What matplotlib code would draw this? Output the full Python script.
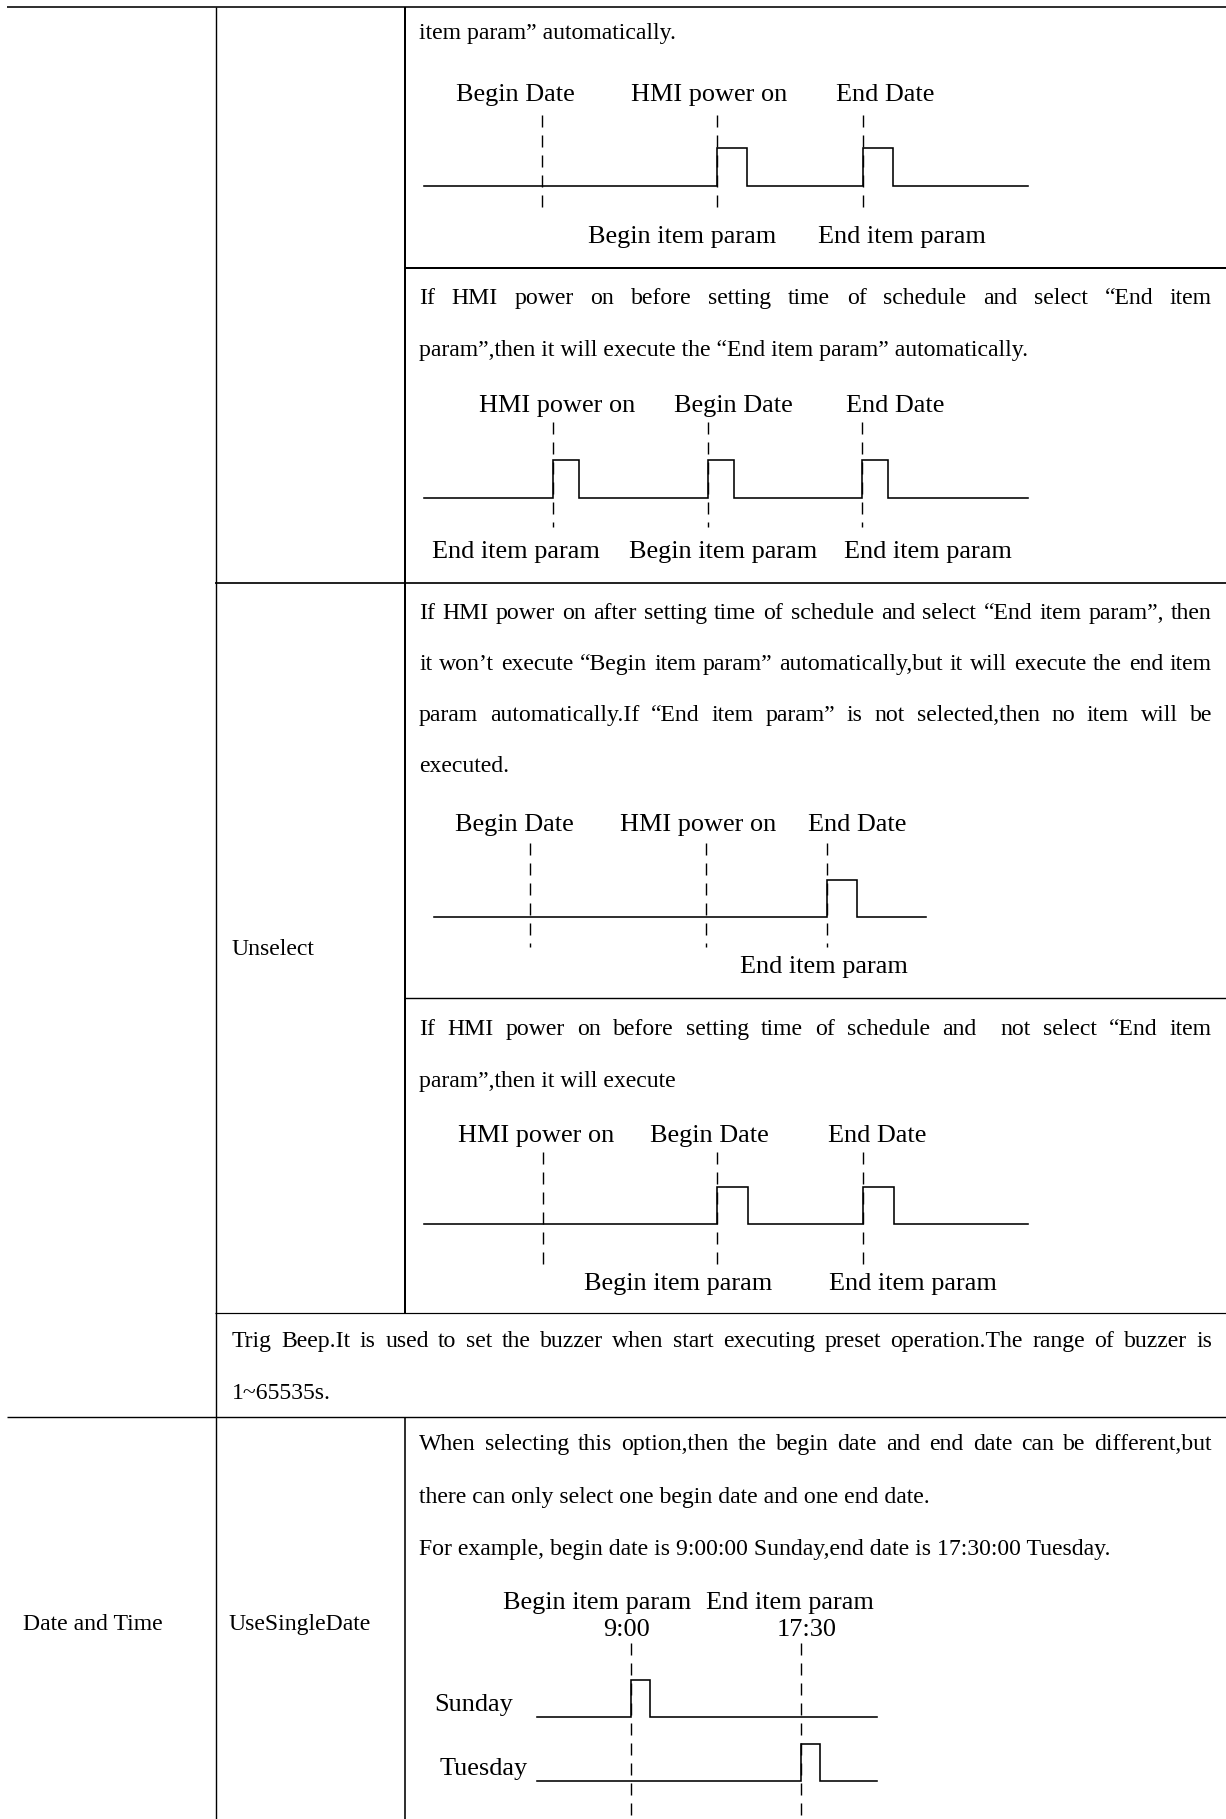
import matplotlib
matplotlib.use("Agg")
import matplotlib.pyplot as plt

# ---------------- data (text & timing values read from the page) ----------------
ROW1_TEXT = ["item param” automatically."]
ROW2_TEXT = ["If HMI power on before setting time of schedule and select “End item",
             "param”,then it will execute the “End item param” automatically."]
ROW3_TEXT = ["If HMI power on after setting time of schedule and select “End item param”, then",
             "it won’t execute “Begin item param” automatically,but it will execute the end item",
             "param automatically.If “End item param” is not selected,then no item will be",
             "executed."]
ROW4_TEXT = ["If HMI power on before setting time of schedule and  not select “End item",
             "param”,then it will execute"]
BEEP_TEXT = ["Trig Beep.It is used to set the buzzer when start executing preset operation.The range of buzzer is",
             "1~65535s."]
DATE_TEXT = ["When selecting this option,then the begin date and end date can be different,but",
             "there can only select one begin date and one end date."]
DATE_EXAMPLE = "For example, begin date is 9:00:00 Sunday,end date is 17:30:00 Tuesday."
COL1_LABELS = ["Date and Time"]
COL2_LABELS = ["Unselect", "UseSingleDate"]

# timing diagrams: event times along each timeline, which events carry a pulse, labels
D1_TIMES = [118, 293, 439]
D1_PULSE = [False, True, True]
D1_TOP = ["Begin Date", "HMI power on", "End Date"]
D1_BOTTOM = ["", "Begin item param", "End item param"]

D2_TIMES = [129, 284, 438]
D2_PULSE = [True, True, True]
D2_TOP = ["HMI power on", "Begin Date", "End Date"]
D2_BOTTOM = ["End item param", "Begin item param", "End item param"]

D3_TIMES = [96, 272, 393]
D3_PULSE = [False, False, True]
D3_TOP = ["Begin Date", "HMI power on", "End Date"]
D3_BOTTOM = ["", "", "End item param"]

D4_TIMES = [119, 293, 439]
D4_PULSE = [False, True, True]
D4_TOP = ["HMI power on", "Begin Date", "End Date"]
D4_BOTTOM = ["", "Begin item param", "End item param"]

D5_TIMES = [94, 264]
D5_DAYS = ["Sunday", "Tuesday"]
D5_ITEMS = ["Begin item param", "End item param"]
D5_CLOCK = ["9:00", "17:30"]

# ---------------- figure setup ----------------
W, H, DPI = 1226, 1819, 100
plt.rcParams['font.family'] = ['Liberation Serif', 'DejaVu Serif']
plt.rcParams['lines.scale_dashes'] = False
BODY = 23.7 * 72 / DPI
DIAG = 26.3 * 72 / DPI
PX = 72 / DPI  # points per pixel

fig = plt.figure(figsize=(W / DPI, H / DPI), dpi=DPI)
ax = fig.add_axes([0, 0, 1, 1])
ax.set_xlim(0, W)
ax.set_ylim(H, 0)
ax.axis('off')
renderer = fig.canvas.get_renderer()

# ---------------- table grid ----------------
def hline(y, x0, x1, lw):
    ax.plot([x0, x1], [y, y], color='black', lw=lw * PX, solid_capstyle='butt')

def vline(x, y0, y1, lw):
    ax.plot([x, x], [y0, y1], color='black', lw=lw * PX, solid_capstyle='butt')

hline(7.5, 7, W, 1.6)
hline(268, 405, W, 2.0)
hline(583, 215, W, 1.7)
hline(998, 405, W, 1.4)
hline(1313, 215, W, 1.2)
hline(1417, 7, W, 1.4)
vline(215.5, 7, H, 1.4)
vline(405, 7, 1313, 2.0)
vline(405, 1417, H, 1.6)

# ---------------- text helpers ----------------
def put_line(s, x0, y, x1=None, size=BODY):
    if x1 is None:
        ax.text(x0, y, s, fontsize=size, ha='left', va='baseline', color='black')
        return
    words = s.split(' ')
    objs, widths = [], []
    for w in words:
        t = ax.text(0, y, w, fontsize=size, ha='left', va='baseline', color='black')
        objs.append(t)
        widths.append(t.get_window_extent(renderer).width if w else 0.0)
    gap = (x1 - x0 - sum(widths)) / max(len(words) - 1, 1)
    x = x0
    for t, wd in zip(objs, widths):
        t.set_x(x)
        x += wd + gap

def paragraph(lines, x0, y0, step, x1):
    for i, s in enumerate(lines):
        put_line(s, x0, y0 + i * step, x1 if i < len(lines) - 1 else None)

TX0, TX1, STEP = 419, 1212, 52
paragraph(ROW1_TEXT, TX0, 39, STEP, TX1)
paragraph(ROW2_TEXT, TX0, 304, STEP, TX1)
paragraph(ROW3_TEXT, TX0, 619, 51, TX1)
paragraph(ROW4_TEXT, TX0, 1035, STEP, TX1)
paragraph(BEEP_TEXT, 232, 1347, STEP, TX1)
paragraph(DATE_TEXT, TX0, 1450, 53, TX1)
put_line(DATE_EXAMPLE, TX0, 1555)

ax.text(231, 955, COL2_LABELS[0], fontsize=BODY, ha='left', va='baseline')
ax.text(300, 1630, COL2_LABELS[1], fontsize=BODY, ha='center', va='baseline')
ax.text(93, 1630, COL1_LABELS[0], fontsize=BODY, ha='center', va='baseline')

# ---------------- timing diagrams ----------------
SIG_LW = 1.6 * PX
DASH_LW = 1.4 * PX
DASH = (0, (12 * PX, 8 * PX))

def signal(x0, span, ybase, times, pulses, w, h):
    xs, ys = [x0], [ybase]
    for t, p in zip(times, pulses):
        if p:
            xs += [x0 + t, x0 + t, x0 + t + w, x0 + t + w]
            ys += [ybase, ybase - h, ybase - h, ybase]
    xs.append(x0 + span)
    ys.append(ybase)
    ax.plot(xs, ys, color='black', lw=SIG_LW, solid_joinstyle='miter')

def dashes(x0, times, y0, y1):
    for t in times:
        ax.plot([x0 + t, x0 + t], [y0, y1], color='black', lw=DASH_LW, linestyle=DASH)

def labels(texts, xs, y):
    for s, x in zip(texts, xs):
        if s:
            ax.text(x, y, s, fontsize=DIAG, ha='center', va='baseline')

def diagram(x0, span, ybase, times, pulses, w, h, dash_rng, top, top_x, top_y, bot, bot_x, bot_y):
    dashes(x0, times, *dash_rng)
    signal(x0, span, ybase, times, pulses, w, h)
    labels(top, top_x, top_y)
    labels(bot, bot_x, bot_y)

diagram(424, 604, 186, D1_TIMES, D1_PULSE, 30, 38, (115, 215),
        D1_TOP, [515, 709, 885], 101, D1_BOTTOM, [0, 682, 902], 243)
diagram(424, 604, 498, D2_TIMES, D2_PULSE, 26, 38, (422, 527),
        D2_TOP, [557, 733, 895], 412, D2_BOTTOM, [516, 723, 928], 558)
diagram(434, 492, 917, D3_TIMES, D3_PULSE, 30, 37, (843, 947),
        D3_TOP, [514, 698, 857], 831, D3_BOTTOM, [0, 0, 824], 973)
diagram(424, 604, 1224, D4_TIMES, D4_PULSE, 31, 37, (1152, 1268),
        D4_TOP, [536, 709, 877], 1142, D4_BOTTOM, [0, 678, 913], 1290)

# weekly diagram
D5_X0, D5_SPAN = 537, 340
dashes(D5_X0, D5_TIMES, 1643, H)
for i, (day, yb) in enumerate(zip(D5_DAYS, [1717, 1781])):
    pulses = [j == i for j in range(len(D5_TIMES))]
    signal(D5_X0, D5_SPAN, yb, D5_TIMES, pulses, 19, 37)
ax.text(513, 1711, D5_DAYS[0], fontsize=DIAG, ha='right', va='baseline')
ax.text(528, 1775, D5_DAYS[1], fontsize=DIAG, ha='right', va='baseline')
labels(D5_ITEMS, [597, 790], 1609)
labels(D5_CLOCK, [627, 807], 1636)

fig.savefig("out.png", dpi=DPI, facecolor='white')
